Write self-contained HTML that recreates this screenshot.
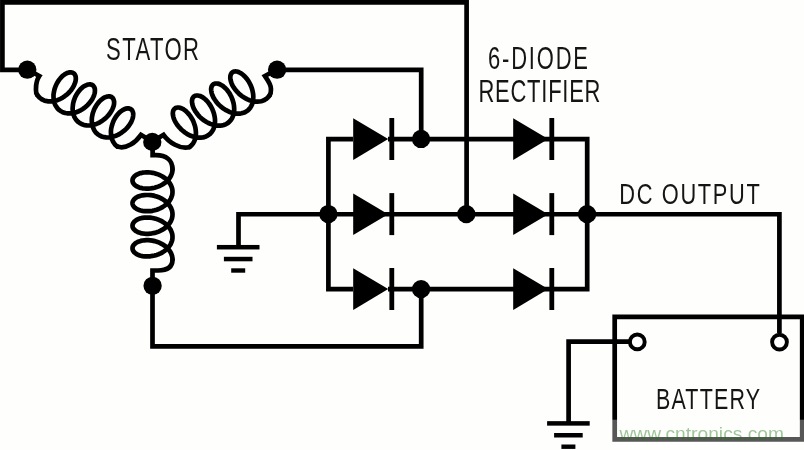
<!DOCTYPE html>
<html><head><meta charset="utf-8"><title>Alternator rectifier</title>
<style>html,body{margin:0;padding:0;background:#fefefc;}svg{display:block;will-change:transform;}</style></head>
<body>
<svg width="804" height="450" viewBox="0 0 804 450">
<rect width="804" height="450" fill="#fefefc"/>
<g fill="none" stroke="#000" stroke-width="4.7" stroke-linejoin="miter" stroke-linecap="butt">
<path d="M28 69.8 H2.4 V2.3 H466.6 V214"/>
<path d="M277 69.8 H421.2 V139.1"/>
<path d="M152.5 286 V346.3 H421.2 V289.1"/>
<path d="M388 139.1 H587.2 V289.1 H388"/>
<path d="M353 139.1 H328.4 V289.1 H353"/>
<path d="M238.5 247 V214.25 H779.4 V333"/>
<path d="M630 341.7 H568.6 V423"/>
<path d="M614.7 316.8 H802.2 V439.3 H614.7 Z"/>
</g>
<g fill="none" stroke="#000" stroke-width="4.7" stroke-linejoin="round" stroke-linecap="round">
<path stroke-linejoin="miter" d="M152.6 143 V155.2 H156 C166 155.2 172.5 160 172.5 169.2"/>
<path d="M172.5 169.2 L172.4 171.0 L172.1 172.7 L171.5 174.4 L170.8 176.1 L169.8 177.7 L168.7 179.3 L167.4 180.7 L165.9 182.1 L164.3 183.3 L162.5 184.5 L160.6 185.5 L158.7 186.4 L156.7 187.1 L154.6 187.7 L152.5 188.1 L150.4 188.5 L148.3 188.6 L146.3 188.6 L144.4 188.5 L142.5 188.3 L140.7 187.9 L139.1 187.4 L137.6 186.8 L136.3 186.1 L135.2 185.3 L134.2 184.4 L133.5 183.5 L132.9 182.5 L132.6 181.5 L132.5 180.5 L132.6 179.5 L132.9 178.5 L133.5 177.5 L134.2 176.6 L135.2 175.7 L136.3 174.9 L137.6 174.2 L139.1 173.6 L140.7 173.1 L142.5 172.7 L144.4 172.5 L146.3 172.4 L148.3 172.4 L150.4 172.5 L152.5 172.8 L154.6 173.3 L156.7 173.9 L158.7 174.6 L160.6 175.5 L162.5 176.5 L164.3 177.7 L165.9 178.9 L167.4 180.3 L168.7 181.7 L169.8 183.3 L170.8 184.9 L171.5 186.6 L172.1 188.3 L172.4 190.0 L172.5 191.8 L172.4 193.6 L172.1 195.3 L171.5 197.0 L170.8 198.7 L169.8 200.3 L168.7 201.9 L167.4 203.3 L165.9 204.7 L164.3 205.9 L162.5 207.1 L160.6 208.1 L158.7 209.0 L156.7 209.7 L154.6 210.3 L152.5 210.8 L150.4 211.1 L148.3 211.2 L146.3 211.2 L144.4 211.1 L142.5 210.9 L140.7 210.5 L139.1 210.0 L137.6 209.4 L136.3 208.7 L135.2 207.9 L134.2 207.0 L133.5 206.1 L132.9 205.1 L132.6 204.1 L132.5 203.1 L132.6 202.1 L132.9 201.1 L133.5 200.1 L134.2 199.2 L135.2 198.3 L136.3 197.5 L137.6 196.8 L139.1 196.2 L140.7 195.7 L142.5 195.3 L144.4 195.1 L146.3 195.0 L148.3 195.0 L150.4 195.1 L152.5 195.4 L154.6 195.9 L156.7 196.5 L158.7 197.2 L160.6 198.1 L162.5 199.1 L164.3 200.3 L165.9 201.5 L167.4 202.9 L168.7 204.3 L169.8 205.9 L170.8 207.5 L171.5 209.2 L172.1 210.9 L172.4 212.6 L172.5 214.4 L172.4 216.2 L172.1 217.9 L171.5 219.6 L170.8 221.3 L169.8 222.9 L168.7 224.5 L167.4 225.9 L165.9 227.3 L164.3 228.5 L162.5 229.7 L160.6 230.7 L158.7 231.6 L156.7 232.3 L154.6 232.9 L152.5 233.3 L150.4 233.7 L148.3 233.8 L146.3 233.8 L144.4 233.7 L142.5 233.5 L140.7 233.1 L139.1 232.6 L137.6 232.0 L136.3 231.3 L135.2 230.5 L134.2 229.6 L133.5 228.7 L132.9 227.7 L132.6 226.7 L132.5 225.7 L132.6 224.7 L132.9 223.7 L133.5 222.7 L134.2 221.8 L135.2 220.9 L136.3 220.1 L137.6 219.4 L139.1 218.8 L140.7 218.3 L142.5 217.9 L144.4 217.7 L146.3 217.6 L148.3 217.6 L150.4 217.7 L152.5 218.0 L154.6 218.5 L156.7 219.1 L158.7 219.8 L160.6 220.7 L162.5 221.7 L164.3 222.9 L165.9 224.1 L167.4 225.5 L168.7 226.9 L169.8 228.5 L170.8 230.1 L171.5 231.8 L172.1 233.5 L172.4 235.2 L172.5 237.0 L172.4 238.8 L172.1 240.5 L171.5 242.2 L170.8 243.9 L169.8 245.5 L168.7 247.1 L167.4 248.5 L165.9 249.9 L164.3 251.1 L162.5 252.3 L160.6 253.3 L158.7 254.2 L156.7 254.9 L154.6 255.5 L152.5 255.9 L150.4 256.3 L148.3 256.4 L146.3 256.4 L144.4 256.3 L142.5 256.1 L140.7 255.7 L139.1 255.2 L137.6 254.6 L136.3 253.9 L135.2 253.1 L134.2 252.2 L133.5 251.3 L132.9 250.3 L132.6 249.3 L132.5 248.3 L132.6 247.3 L132.9 246.3 L133.5 245.3 L134.2 244.4 L135.2 243.5 L136.3 242.7 L137.6 242.0 L139.1 241.4 L140.7 240.9 L142.5 240.5 L144.4 240.3 L146.3 240.2 L148.3 240.2 L150.4 240.3 L152.5 240.6 L154.6 241.1 L156.7 241.7 L158.7 242.4 L160.6 243.3 L162.5 244.3 L164.3 245.5 L165.9 246.7 L167.4 248.1 L168.7 249.5 L169.8 251.1 L170.8 252.7 L171.5 254.4 L172.1 256.1 L172.4 257.8 L172.5 259.6"/>
<path stroke-linejoin="miter" d="M172.5 259.6 C172.5 267.6 167 270.5 158 270.5 H152.5 V286"/>
<path d="M37.3 95.0 L38.4 96.4 L39.6 97.7 L41.0 98.7 L42.5 99.7 L44.1 100.4 L45.8 100.9 L47.6 101.3 L49.5 101.4 L51.4 101.4 L53.3 101.2 L55.3 100.8 L57.3 100.2 L59.2 99.4 L61.1 98.5 L62.9 97.4 L64.7 96.2 L66.4 94.9 L68.0 93.5 L69.5 92.0 L70.8 90.5 L72.0 88.9 L73.0 87.2 L73.9 85.6 L74.6 84.0 L75.2 82.4 L75.6 80.9 L75.8 79.4 L75.8 78.1 L75.7 76.8 L75.4 75.7 L74.9 74.7 L74.3 73.9 L73.6 73.3 L72.7 72.8 L71.7 72.5 L70.7 72.3 L69.5 72.4 L68.3 72.7 L67.0 73.1 L65.7 73.8 L64.4 74.6 L63.0 75.6 L61.7 76.8 L60.5 78.1 L59.3 79.6 L58.2 81.2 L57.1 83.0 L56.2 84.8 L55.4 86.7 L54.7 88.6 L54.2 90.6 L53.8 92.7 L53.5 94.7 L53.5 96.7 L53.6 98.7 L53.9 100.6 L54.3 102.5 L54.9 104.2 L55.7 105.8 L56.7 107.3 L57.8 108.7 L59.1 109.9 L60.5 111.0 L62.0 111.8 L63.6 112.5 L65.3 113.0 L67.1 113.3 L69.0 113.4 L70.9 113.4 L72.9 113.1 L74.9 112.7 L76.8 112.0 L78.8 111.2 L80.6 110.3 L82.5 109.2 L84.2 108.0 L85.9 106.6 L87.5 105.2 L88.9 103.7 L90.2 102.1 L91.4 100.5 L92.4 98.9 L93.2 97.3 L93.9 95.7 L94.4 94.1 L94.8 92.6 L94.9 91.2 L94.9 89.8 L94.8 88.6 L94.4 87.5 L93.9 86.6 L93.3 85.8 L92.5 85.1 L91.7 84.7 L90.7 84.4 L89.6 84.4 L88.4 84.5 L87.1 84.8 L85.9 85.3 L84.5 86.0 L83.2 86.8 L81.9 87.9 L80.6 89.1 L79.4 90.5 L78.2 92.0 L77.1 93.6 L76.1 95.3 L75.1 97.2 L74.4 99.1 L73.7 101.1 L73.2 103.1 L72.9 105.1 L72.7 107.2 L72.6 109.2 L72.8 111.1 L73.1 113.0 L73.6 114.8 L74.2 116.6 L75.1 118.2 L76.1 119.7 L77.2 121.0 L78.5 122.2 L79.9 123.2 L81.5 124.0 L83.1 124.7 L84.9 125.1 L86.7 125.4 L88.6 125.5 L90.5 125.3 L92.5 125.0 L94.4 124.5 L96.4 123.9 L98.3 123.1 L100.2 122.1 L102.0 121.0 L103.7 119.7 L105.4 118.4 L106.9 116.9 L108.3 115.4 L109.6 113.8 L110.7 112.2 L111.7 110.6 L112.5 108.9 L113.2 107.3 L113.7 105.8 L114.0 104.3 L114.1 102.9 L114.1 101.6 L113.8 100.4 L113.5 99.3 L113.0 98.4 L112.3 97.6 L111.5 97.0 L110.6 96.6 L109.6 96.4 L108.5 96.4 L107.3 96.5 L106.0 96.9 L104.7 97.4 L103.4 98.1 L102.1 99.1 L100.8 100.1 L99.5 101.4 L98.2 102.8 L97.1 104.3 L96.0 106.0 L95.0 107.7 L94.1 109.6 L93.4 111.5 L92.7 113.5 L92.3 115.5 L91.9 117.6 L91.8 119.6 L91.8 121.6 L92.0 123.5 L92.3 125.4 L92.9 127.2 L93.6 128.9 L94.4 130.5 L95.4 132.0 L96.6 133.3 L97.9 134.4 L99.4 135.4 L101.0 136.2 L102.6 136.8 L104.4 137.2 L106.2 137.4 L108.1 137.5 L110.1 137.3 L112.0 136.9 L114.0 136.4 L115.9 135.7 L117.9 134.9 L119.7 133.9 L121.5 132.7 L123.2 131.4 L124.9 130.1 L126.4 128.6 L127.8 127.1 L129.0 125.5 L130.1 123.9 L131.1 122.2 L131.8 120.6 L132.4 119.0 L132.9 117.5 L133.1 116.0 L133.2 114.6 L133.2 113.3 L132.9 112.1 L132.5 111.1 L132.0 110.2 L131.3 109.5 L130.5 109.0 L129.5 108.6 L128.5 108.4 L127.4 108.4 L126.1 108.6 L124.9 109.0 L123.6 109.6 L122.3 110.3 L120.9 111.3 L119.6 112.4 L118.4 113.7 L117.1 115.1 L116.0 116.7 L114.9 118.3 L113.9 120.1 L113.1 122.0 L112.4 124.0 L111.8 126.0 L111.3 128.0 L111.0 130.0 L110.9 132.0 L111.0 134.0 L111.2 136.0 L111.6 137.8 L112.1 139.6 L112.9 141.3 L113.8 142.8 L114.8 144.3 L116.0 145.5 L117.4 146.6"/>
<path stroke-linejoin="miter" d="M28.0 69.7 L39.3 76 C36.7 80 36.0 84 36.0 88.5 C36.0 91 35.5 92.7 37.3 95.0"/>
<path stroke-linejoin="miter" d="M117.4 146.6 C126.4 149.6 136.0 142 141.0 134.8 L147.0 138.5"/>
<path d="M269.6 95.3 L268.6 96.7 L267.3 98.0 L266.0 99.1 L264.5 100.0 L262.9 100.7 L261.1 101.2 L259.3 101.5 L257.4 101.7 L255.5 101.6 L253.5 101.3 L251.5 100.9 L249.5 100.2 L247.5 99.4 L245.6 98.4 L243.7 97.3 L241.9 96.1 L240.1 94.7 L238.5 93.2 L237.0 91.6 L235.6 90.0 L234.4 88.4 L233.3 86.7 L232.3 85.0 L231.6 83.3 L231.0 81.7 L230.6 80.1 L230.3 78.6 L230.3 77.2 L230.4 75.9 L230.7 74.8 L231.1 73.8 L231.7 73.0 L232.4 72.3 L233.3 71.8 L234.3 71.5 L235.4 71.4 L236.6 71.5 L237.8 71.8 L239.1 72.3 L240.5 73.0 L241.8 73.9 L243.2 75.0 L244.5 76.2 L245.8 77.6 L247.1 79.1 L248.3 80.8 L249.3 82.6 L250.3 84.5 L251.2 86.5 L251.9 88.5 L252.5 90.6 L252.9 92.7 L253.2 94.7 L253.3 96.8 L253.2 98.8 L253.0 100.8 L252.6 102.7 L252.0 104.5 L251.2 106.1 L250.3 107.7 L249.2 109.0 L247.9 110.3 L246.5 111.3 L245.0 112.2 L243.4 112.8 L241.6 113.3 L239.8 113.6 L237.9 113.7 L235.9 113.6 L233.9 113.3 L231.9 112.8 L229.9 112.1 L228.0 111.2 L226.0 110.2 L224.2 109.1 L222.3 107.8 L220.6 106.4 L219.0 104.9 L217.5 103.3 L216.2 101.7 L215.0 100.0 L213.9 98.3 L213.0 96.6 L212.3 95.0 L211.7 93.3 L211.4 91.8 L211.2 90.3 L211.1 89.0 L211.3 87.7 L211.6 86.6 L212.1 85.6 L212.7 84.8 L213.5 84.2 L214.4 83.8 L215.4 83.5 L216.5 83.5 L217.7 83.6 L219.0 83.9 L220.3 84.5 L221.6 85.2 L223.0 86.1 L224.3 87.2 L225.7 88.5 L227.0 89.9 L228.2 91.5 L229.4 93.2 L230.4 95.0 L231.4 96.9 L232.2 98.9 L232.9 100.9 L233.5 103.0 L233.9 105.1 L234.1 107.2 L234.2 109.3 L234.1 111.3 L233.8 113.2 L233.3 115.1 L232.7 116.8 L231.9 118.5 L230.9 120.0 L229.8 121.3 L228.5 122.5 L227.1 123.5 L225.5 124.3 L223.8 125.0 L222.1 125.4 L220.2 125.6 L218.3 125.7 L216.4 125.5 L214.4 125.2 L212.4 124.6 L210.4 123.9 L208.4 123.0 L206.5 122.0 L204.6 120.8 L202.8 119.5 L201.1 118.1 L199.5 116.6 L198.1 115.0 L196.8 113.3 L195.6 111.7 L194.6 110.0 L193.7 108.3 L193.0 106.6 L192.5 105.0 L192.2 103.5 L192.0 102.0 L192.0 100.7 L192.2 99.5 L192.5 98.4 L193.1 97.5 L193.7 96.7 L194.5 96.1 L195.4 95.7 L196.5 95.5 L197.6 95.5 L198.8 95.7 L200.1 96.0 L201.4 96.6 L202.8 97.4 L204.1 98.4 L205.5 99.5 L206.8 100.8 L208.1 102.3 L209.3 103.9 L210.4 105.6 L211.5 107.4 L212.4 109.3 L213.2 111.3 L213.9 113.4 L214.4 115.5 L214.8 117.6 L215.0 119.7 L215.0 121.7 L214.9 123.7 L214.5 125.6 L214.0 127.5 L213.4 129.2 L212.5 130.8 L211.5 132.3 L210.4 133.6 L209.0 134.7 L207.6 135.7 L206.0 136.5 L204.3 137.1 L202.6 137.5 L200.7 137.7 L198.8 137.7 L196.8 137.5 L194.8 137.1 L192.8 136.5 L190.8 135.8 L188.8 134.8 L186.9 133.8 L185.1 132.6 L183.3 131.2 L181.6 129.8 L180.1 128.2 L178.6 126.6 L177.3 125.0 L176.2 123.3 L175.2 121.6 L174.4 119.9 L173.7 118.3 L173.3 116.7 L173.0 115.2 L172.8 113.7 L172.9 112.4 L173.1 111.2 L173.5 110.2 L174.0 109.3 L174.7 108.6 L175.6 108.0 L176.5 107.7 L177.6 107.5 L178.7 107.5 L179.9 107.7 L181.2 108.2 L182.6 108.8 L183.9 109.6 L185.3 110.6 L186.6 111.8 L187.9 113.1 L189.2 114.6 L190.4 116.2 L191.5 118.0 L192.6 119.8 L193.5 121.8 L194.2 123.8 L194.9 125.8 L195.4 127.9 L195.7 130.0 L195.9 132.1 L195.9 134.1 L195.7 136.1 L195.3 138.1 L194.8 139.9 L194.1 141.6 L193.2 143.2 L192.1 144.6 L190.9 145.9 L189.6 147.0"/>
<path stroke-linejoin="miter" d="M276.5 69.7 L264.9 76 C267.5 80 270.9 84 270.9 88.5 C270.9 91 271.4 92.9 269.6 95.3"/>
<path stroke-linejoin="miter" d="M189.6 147.0 C180.6 150.0 168.5 142 163.5 134.8 L157.5 138.5"/>
</g>
<g fill="#000">
<circle cx="27.3" cy="69.7" r="9.15"/>
<circle cx="277.1" cy="69.7" r="9.15"/>
<circle cx="152.3" cy="141.9" r="9.15"/>
<circle cx="152.6" cy="285.8" r="9.15"/>
<circle cx="421.1" cy="138.95" r="9.15"/>
<circle cx="421.1" cy="289.1" r="9.15"/>
<circle cx="328.4" cy="214.05" r="9.15"/>
<circle cx="466.3" cy="214.1" r="9.15"/>
<circle cx="587.1" cy="214.15" r="9.15"/>
<path d="M353.2 118.3 L388.2 139.1 L353.2 159.9 Z"/>
<rect x="389.4" y="118.0" width="4.8" height="42"/>
<path d="M513.2 118.3 L548.2 139.1 L513.2 159.9 Z"/>
<rect x="549.4000000000001" y="118.0" width="4.8" height="42"/>
<path d="M353.2 193.39999999999998 L388.2 214.2 L353.2 235.0 Z"/>
<rect x="389.4" y="193.1" width="4.8" height="42"/>
<path d="M513.2 193.39999999999998 L548.2 214.2 L513.2 235.0 Z"/>
<rect x="549.4000000000001" y="193.1" width="4.8" height="42"/>
<path d="M353.2 268.3 L388.2 289.1 L353.2 309.90000000000003 Z"/>
<rect x="389.4" y="268.0" width="4.8" height="42"/>
<path d="M513.2 268.3 L548.2 289.1 L513.2 309.90000000000003 Z"/>
<rect x="549.4000000000001" y="268.0" width="4.8" height="42"/>
<rect x="216.89999999999998" y="244.95" width="42.6" height="4.5"/>
<rect x="223.89999999999998" y="256.8" width="28.6" height="4.5"/>
<rect x="231.2" y="268.3" width="14" height="4.4"/>
<rect x="547.1" y="421.15" width="42.6" height="4.5"/>
<rect x="554.1" y="433.0" width="28.6" height="4.5"/>
<rect x="561.4" y="444.5" width="14" height="4.4"/>
</g>
<g fill="#fff" stroke="#000" stroke-width="3.9">
<circle cx="637.3" cy="341.9" r="7.4"/>
<circle cx="779.5" cy="342.1" r="7.4"/>
</g>
<g>
<text transform="translate(106 60.4) scale(0.72 1)" font-family="Liberation Sans, sans-serif" font-size="30.7" textLength="129.2" lengthAdjust="spacing" fill="#151515">STATOR</text>
<text transform="translate(488 69.3) scale(0.72 1)" font-family="Liberation Sans, sans-serif" font-size="30.5" textLength="138.9" lengthAdjust="spacing" fill="#151515">6-DIODE</text>
<text transform="translate(478.5 102.3) scale(0.72 1)" font-family="Liberation Sans, sans-serif" font-size="30.5" textLength="169.4" lengthAdjust="spacing" fill="#151515">RECTIFIER</text>
<text transform="translate(619.3 204.3) scale(0.72 1)" font-family="Liberation Sans, sans-serif" font-size="30.3" textLength="195.1" lengthAdjust="spacing" fill="#151515">DC OUTPUT</text>
<text transform="translate(656 408.8) scale(0.72 1)" font-family="Liberation Sans, sans-serif" font-size="29.8" textLength="144.4" lengthAdjust="spacing" fill="#151515">BATTERY</text>
</g>
<rect x="600" y="419.7" width="204" height="26" fill="#fff" fill-opacity="0.34"/>
<g>
<text transform="translate(619.5 439.8) scale(1 1)" font-family="Liberation Sans, sans-serif" font-size="19.2" textLength="164.5" lengthAdjust="spacing" fill="#1c7a14" fill-opacity="0.42">www.cntronics.com</text>
</g>
</svg>
</body></html>
